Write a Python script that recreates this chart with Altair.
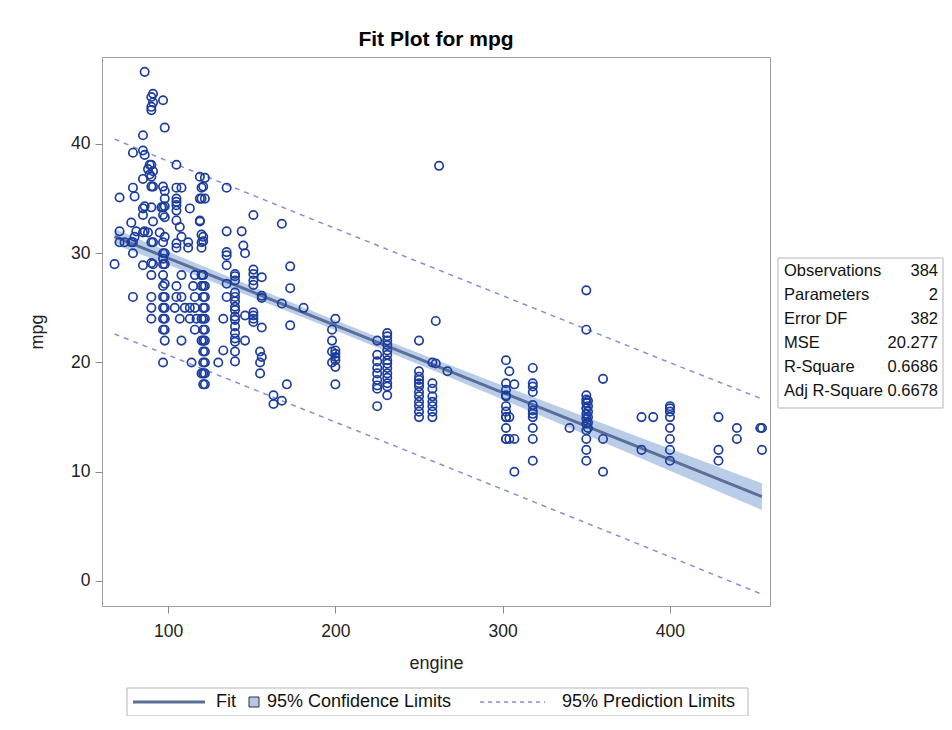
import altair as alt
import pandas as pd

FONT = "Liberation Sans"

# ---------------- scatter data (engine, list of mpg values) ----------------
small_cars = [
    (68, [29.0]),
    (71, [35.1, 32.0, 31.0]),
    (74, [31.0]),
    (78, [32.8, 31.0]),
    (79, [39.2, 36.0, 31.0, 30.0, 26.0]),
    (80, [35.2, 31.5]),
    (81, [32.0]),
    (85, [40.8, 39.4, 36.8, 34.1, 33.5, 31.9, 28.9]),
    (86, [46.6, 39.0, 34.3, 32.0]),
    (88, [37.7, 31.9]),
    (89, [38.1, 37.2]),
    (90, [44.3, 43.4, 43.1, 38.1, 37.0, 36.1, 34.2, 31.0, 29.1, 28.0, 26.0, 25.0, 24.0]),
    (91, [44.6, 43.8, 37.5, 36.1, 32.9, 31.0, 29.0]),
    (95, [31.9]),
    (96, [34.2]),
    (97, [44.0, 36.1, 34.2, 33.5, 31.0, 30.0, 29.5, 29.0, 28.0, 27.0, 26.0, 25.0, 24.0, 23.0, 20.0]),
    (98, [41.5, 35.7, 35.0, 34.3, 33.3, 31.5, 30.0, 29.0, 27.2, 26.0, 25.0, 24.0, 23.0, 22.0]),
    (104, [25.0]),
    (105, [38.1, 36.0, 35.0, 34.7, 34.4, 33.9, 33.0, 30.9, 30.5, 27.0, 26.0]),
    (107, [32.4, 24.0]),
    (108, [36.0, 31.5, 28.0, 26.0, 22.0]),
    (110, [25.0]),
    (112, [31.0, 30.5]),
    (113, [34.1, 25.0, 24.0]),
    (114, [20.0]),
    (115, [27.0]),
    (116, [28.0, 26.0, 25.0, 23.0]),
    (117, [24.0]),
    (119, [37.0, 35.0, 33.0, 32.9]),
    (120, [36.0, 35.0, 31.7, 31.0, 30.5, 28.0, 27.0, 24.0, 22.0, 19.0]),
    (121, [36.1, 31.5, 31.1, 28.0, 27.0, 26.0, 25.0, 24.0, 23.0, 22.0, 21.0, 20.0, 19.0, 18.0]),
    (122, [36.9, 35.0, 27.0, 26.0, 25.0, 24.0, 23.0, 22.0, 21.0, 20.0, 19.0, 18.0]),
]

mid_cars = [
    (130, [20.0]),
    (133, [24.0, 21.1]),
    (135, [36.0, 32.0, 30.1, 29.8, 28.9, 27.2, 26.0]),
    (140, [28.1, 27.9, 27.5, 26.4, 26.0, 25.6, 25.1, 24.8, 24.2, 23.9, 23.3, 22.7, 22.2, 21.9, 21.0, 20.1]),
    (144, [32.0]),
    (145, [30.7]),
    (146, [30.0, 24.3, 22.0]),
    (151, [33.5, 28.5, 28.1, 27.5, 27.1, 24.6, 24.3, 24.0, 23.7]),
    (155, [21.0, 20.0, 19.0]),
    (156, [27.8, 26.1, 25.9, 23.2, 20.5]),
    (163, [17.0, 16.2]),
    (168, [32.7, 25.4, 16.5]),
    (171, [18.0]),
    (173, [28.8, 26.8, 23.4]),
    (181, [25.0]),
    (198, [23.0, 22.0, 21.0, 20.0]),
    (200, [24.0, 21.1, 20.8, 20.5, 20.2, 19.6, 18.0]),
    (225, [22.0, 20.7, 20.1, 19.5, 19.0, 18.4, 17.9, 17.6, 16.0]),
    (231, [22.7, 22.4, 22.0, 21.6, 21.1, 20.7, 20.2, 19.9, 19.5, 19.0, 18.6, 18.1, 17.8, 17.0]),
    (250, [22.0, 19.2, 18.7, 18.4, 18.1, 17.8, 17.3, 16.9, 16.4, 16.0, 15.5, 15.0]),
    (258, [20.0, 18.1, 17.6, 16.9, 16.4, 16.0, 15.5, 15.0]),
    (260, [23.8, 19.9]),
    (262, [38.0]),
    (267, [19.2]),
]

large_cars = [
    (302, [20.2, 18.1, 17.5, 17.0, 16.9, 16.0, 15.5, 15.0, 15.0, 14.0, 13.0, 13.0]),
    (304, [19.2, 15.0, 13.0]),
    (307, [18.0, 13.0, 10.0]),
    (318, [19.5, 18.1, 17.8, 17.3, 16.1, 15.6, 15.3, 15.0, 14.0, 13.0, 11.0]),
    (340, [14.0]),
    (350, [26.6, 23.0, 17.0, 16.6, 16.3, 15.8, 15.3, 14.9, 14.4, 13.8, 13.0, 12.0, 11.0]),
    (351, [16.5, 16.0, 15.5, 15.0, 14.5, 14.0]),
    (360, [18.5, 13.0, 10.0]),
    (383, [15.0, 12.0]),
    (390, [15.0]),
    (400, [16.0, 15.8, 15.5, 15.0, 14.0, 13.0, 12.0, 11.0]),
    (429, [15.0, 12.0, 11.0]),
    (440, [14.0, 13.0]),
    (454, [14.0]),
    (455, [14.0, 12.0]),
]

# ---------------- fit curves ----------------
fit_engine = [68, 100, 150, 194, 250, 300, 350, 400, 455]
fit_mpg = [31.52, 29.55, 26.48, 23.77, 20.33, 17.25, 14.18, 11.10, 7.72]
clm_lower = [30.80, 28.95, 25.99, 23.32, 19.82, 16.60, 13.37, 10.10, 6.50]
clm_upper = [32.23, 30.15, 26.97, 24.22, 20.84, 17.90, 14.99, 12.10, 8.94]
pred_lower = [22.60, 20.68, 17.61, 14.91, 11.47, 8.39, 5.31, 2.22, -1.22]
pred_upper = [40.44, 38.42, 35.35, 32.63, 29.19, 26.11, 23.05, 19.98, 16.66]

# ---------------- fit statistics ----------------
stat_labels = ["Observations", "Parameters", "Error DF", "MSE", "R-Square", "Adj R-Square"]
stat_values = ["384", "2", "382", "20.277", "0.6686", "0.6678"]

legend_labels = ["Fit", "95% Confidence Limits", "95% Prediction Limits"]

x_ticks = [100, 200, 300, 400]
y_ticks = [0, 10, 20, 30, 40]

# ---------------- build tables ----------------
rows = []
for group in (small_cars, mid_cars, large_cars):
    for eng, vals in group:
        for v in vals:
            rows.append({"engine": eng, "mpg": v})
pts = pd.DataFrame(rows)

fit_df = pd.DataFrame({
    "engine": fit_engine, "fit": fit_mpg,
    "clm_lo": clm_lower, "clm_hi": clm_upper,
    "pred_lo": pred_lower, "pred_hi": pred_upper,
})

xscale = alt.Scale(domain=[60.5, 459.8], nice=False, zero=False)
yscale = alt.Scale(domain=[-2.29, 47.96], nice=False, zero=False)

xaxis = alt.Axis(values=x_ticks, title="engine", grid=False, domain=False,
                 tickSize=7, tickColor="#8c8c8c", labelPadding=9,
                 labelFontSize=17.5, labelFont=FONT, labelColor="#222",
                 titleFontSize=18, titleFont=FONT, titleFontWeight="normal",
                 titleColor="#222", titlePadding=15)
yaxis = alt.Axis(values=y_ticks, title="mpg", grid=False, domain=False,
                 tickSize=7, tickColor="#8c8c8c", labelPadding=5,
                 labelFontSize=17.5, labelFont=FONT, labelColor="#222",
                 titleFontSize=18, titleFont=FONT, titleFontWeight="normal",
                 titleColor="#222", titlePadding=24)


def X(field):
    return alt.X(f"{field}:Q", scale=xscale, axis=xaxis)


def Y(field):
    return alt.Y(f"{field}:Q", scale=yscale, axis=yaxis)


band = alt.Chart(fit_df).mark_area(color="#b3c8e6", opacity=0.9).encode(
    x=X("engine"), y=Y("clm_lo"), y2="clm_hi:Q")

fit_line = alt.Chart(fit_df).mark_line(color="#5b6e98", strokeWidth=3).encode(
    x=X("engine"), y=Y("fit"))

pred_hi_line = alt.Chart(fit_df).mark_line(
    color="#8790d6", strokeWidth=1.5, strokeDash=[5, 5]).encode(
    x=X("engine"), y=Y("pred_hi"))
pred_lo_line = alt.Chart(fit_df).mark_line(
    color="#8790d6", strokeWidth=1.5, strokeDash=[5, 5]).encode(
    x=X("engine"), y=Y("pred_lo"))

scatter = alt.Chart(pts).mark_point(
    shape="circle", filled=False, color="#1c3d9e", size=70, strokeWidth=1.7, opacity=1
).encode(x=X("engine"), y=Y("mpg"))

layers = [band, fit_line, pred_hi_line, pred_lo_line, scatter]

one = pd.DataFrame({"k": [0]})

# ---------------- statistics table (drawn in the right margin) ----------------
layers.append(alt.Chart(one).mark_rect(fill="white", stroke="#b5b5b5", strokeWidth=1).encode(
    x=alt.value(676), x2=alt.value(841), y=alt.value(201), y2=alt.value(351)))
for i, (lab, val) in enumerate(zip(stat_labels, stat_values)):
    yy = 214 + 24 * i
    layers.append(alt.Chart(one).mark_text(
        text=lab, align="left", baseline="middle", font=FONT, fontSize=16.5, color="#111"
    ).encode(x=alt.value(682), y=alt.value(yy)))
    layers.append(alt.Chart(one).mark_text(
        text=val, align="right", baseline="middle", font=FONT, fontSize=16.5, color="#111"
    ).encode(x=alt.value(836), y=alt.value(yy)))

# ---------------- legend (drawn below the axis) ----------------
layers.append(alt.Chart(one).mark_rect(fill="white", stroke="#b5b5b5", strokeWidth=1).encode(
    x=alt.value(25), x2=alt.value(646), y=alt.value(631), y2=alt.value(659)))
layers.append(alt.Chart(one).mark_rule(color="#5b6e98", strokeWidth=3).encode(
    x=alt.value(31), x2=alt.value(103), y=alt.value(645)))
layers.append(alt.Chart(one).mark_text(
    text=legend_labels[0], align="left", baseline="middle", font=FONT, fontSize=18, color="#111"
).encode(x=alt.value(114), y=alt.value(645)))
layers.append(alt.Chart(one).mark_rect(fill="#b3c8e6", stroke="#333", strokeWidth=1).encode(
    x=alt.value(147), x2=alt.value(157), y=alt.value(640), y2=alt.value(650)))
layers.append(alt.Chart(one).mark_text(
    text=legend_labels[1], align="left", baseline="middle", font=FONT, fontSize=18, color="#111"
).encode(x=alt.value(165), y=alt.value(645)))
layers.append(alt.Chart(one).mark_rule(color="#8790d6", strokeWidth=1.5, strokeDash=[4, 4]).encode(
    x=alt.value(378), x2=alt.value(443), y=alt.value(645)))
layers.append(alt.Chart(one).mark_text(
    text=legend_labels[2], align="left", baseline="middle", font=FONT, fontSize=18, color="#111"
).encode(x=alt.value(460), y=alt.value(645)))

chart = alt.layer(*layers).properties(
    width=668, height=549,
    title=alt.TitleParams("Fit Plot for mpg", fontSize=21, fontWeight="bold", font=FONT,
                          anchor="middle", offset=7, color="#000"),
    autosize=alt.AutoSizeParams(type="none"),
    padding={"left": 94, "top": 49, "right": 174, "bottom": 110},
    background="white",
).configure_view(stroke="#9e9e9e", strokeWidth=1)

chart.save("out.html", embed_options={"renderer": "svg", "actions": False})
